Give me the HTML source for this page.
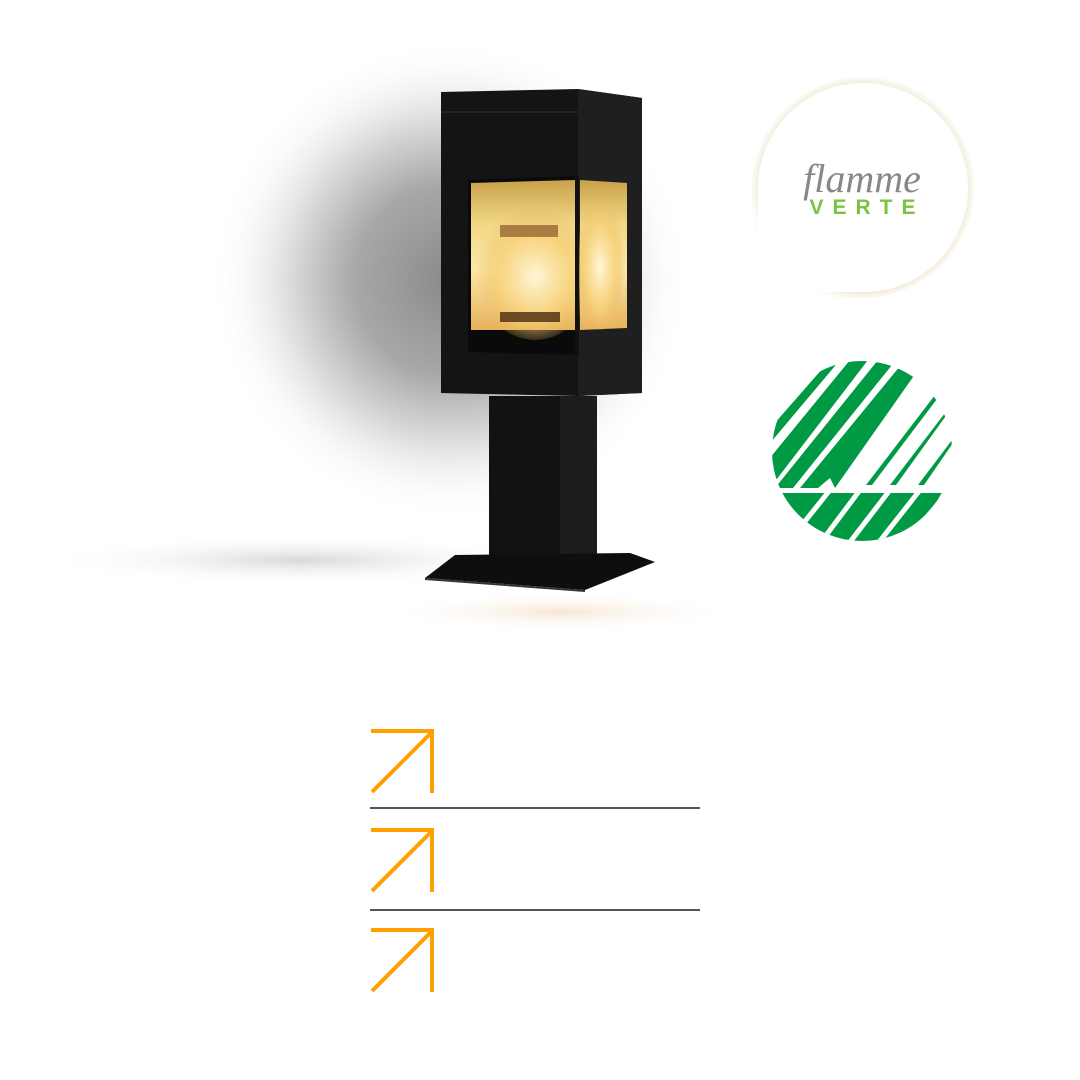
<!DOCTYPE html>
<html><head><meta charset="utf-8"><style>
html,body{margin:0;padding:0;background:#fff;}
svg{display:block}
</style></head><body>
<svg width="1080" height="1080" viewBox="0 0 1080 1080" xmlns="http://www.w3.org/2000/svg">
<defs>
<radialGradient id="glow" cx="450" cy="280" r="240" gradientUnits="userSpaceOnUse">
<stop offset="0" stop-color="#8a8a8a"/>
<stop offset="0.4" stop-color="#a8a8a8"/>
<stop offset="0.7" stop-color="#e2e2e2"/>
<stop offset="1" stop-color="#fff" stop-opacity="0"/>
</radialGradient>
<radialGradient id="shadow" cx="300" cy="560" r="260" gradientUnits="userSpaceOnUse" gradientTransform="matrix(1,0,0,0.1,0,504)">
<stop offset="0" stop-color="#d8d8d8"/>
<stop offset="1" stop-color="#fff" stop-opacity="0"/>
</radialGradient>
<radialGradient id="badgeglow" cx="863" cy="188" r="118" gradientUnits="userSpaceOnUse">
<stop offset="0.85" stop-color="#e6d7b0"/>
<stop offset="1" stop-color="#fff" stop-opacity="0"/>
</radialGradient>
<radialGradient id="floor" cx="0.5" cy="0.5" r="0.5">
<stop offset="0" stop-color="#f3dcc0"/>
<stop offset="1" stop-color="#fff" stop-opacity="0"/>
</radialGradient>
<linearGradient id="fire" x1="0" y1="0" x2="0" y2="1">
<stop offset="0" stop-color="#c9a24a"/>
<stop offset="0.3" stop-color="#f2d886"/>
<stop offset="0.6" stop-color="#fbe7a8"/>
<stop offset="1" stop-color="#e7b25a"/>
</linearGradient>
<radialGradient id="flame" cx="0.5" cy="0.55" r="0.5">
<stop offset="0" stop-color="#fff6d8"/>
<stop offset="0.6" stop-color="#f7d27a" stop-opacity="0.8"/>
<stop offset="1" stop-color="#e8b55a" stop-opacity="0"/>
</radialGradient>
<clipPath id="swan"><circle cx="862" cy="451" r="90"/></clipPath>
</defs>
<rect width="1080" height="1080" fill="#fff"/>
<ellipse cx="450" cy="280" rx="240" ry="240" fill="url(#glow)"/>
<ellipse cx="300" cy="560" rx="300" ry="30" fill="url(#shadow)"/>
<ellipse cx="560" cy="612" rx="180" ry="20" fill="url(#floor)" opacity="0.7"/>
<!-- stove body -->
<polygon points="441,92 578,89 642,98 642,393 578,396 441,393" fill="#141414"/>
<polygon points="578,89 642,98 642,393 578,396" fill="#1f1f1f"/>
<line x1="441" y1="112" x2="578" y2="112" stroke="#333" stroke-width="1"/>
<polygon points="468,180 578,176 578,355 468,352" fill="#0a0a0a"/>
<polygon points="471,183 575,180 575,330 471,330" fill="url(#fire)"/>
<polygon points="580,180 627,183 627,328 580,330" fill="url(#fire)"/>
<ellipse cx="535" cy="270" rx="60" ry="70" fill="url(#flame)"/>
<ellipse cx="600" cy="260" rx="25" ry="70" fill="url(#flame)"/>
<rect x="500" y="225" width="58" height="12" fill="#8a5a2a" opacity="0.7"/>
<rect x="500" y="312" width="60" height="10" fill="#4a2a10" opacity="0.8"/>
<line x1="577" y1="176" x2="577" y2="356" stroke="#111" stroke-width="4"/>
<!-- pedestal -->
<polygon points="489,396 597,396 597,555 489,555" fill="#121212"/>
<polygon points="560,396 597,396 597,555 560,555" fill="#1c1c1c"/>
<polygon points="455,555 630,553 655,562 585,590 425,578" fill="#0e0e0e"/>
<polygon points="425,578 585,590 585,592 425,580" fill="#333"/>
<!-- flamme verte badge -->
<path d="M752,298 L752,188 A111,111 0 0 1 863,77 A111,111 0 0 1 974,188 A111,111 0 0 1 863,298 Z" fill="url(#badgeglow)" opacity="0.8"/>
<path d="M758,292 L758,188 A105,105 0 0 1 863,83 A105,105 0 0 1 968,188 A104,104 0 0 1 863,292 Z" fill="#fff"/>
<text x="862" y="192" text-anchor="middle" font-family="Liberation Serif, serif" font-style="italic" font-size="40" fill="#888">flamme</text>
<text x="867" y="214" text-anchor="middle" font-family="Liberation Sans, sans-serif" font-weight="bold" font-size="21" letter-spacing="9" fill="#7cc242">VERTE</text>
<!-- nordic swan -->
<g clip-path="url(#swan)">
<rect x="770" y="360" width="185" height="185" fill="#fff"/>
<g fill="#009a44">
<polygon points="760,440 830,360 840,360 760,455"/>
<polygon points="760,470 850,360 868,360 770,488"/>
<polygon points="775,488 878,360 896,360 793,488"/>
<polygon points="800,488 905,360 925,360 835,488 830,478 818,488"/>
<polygon points="866,485 935,395 940,395 872,485"/>
<polygon points="890,485 945,413 948,413 896,485"/>
<polygon points="918,485 952,440 955,440 924,485"/>
<polygon points="770,493 960,493 960,560 770,560"/>
</g>
<g stroke="#fff" stroke-width="5">
<line x1="790" y1="540" x2="830" y2="490"/>
<line x1="815" y1="550" x2="860" y2="490"/>
<line x1="840" y1="555" x2="890" y2="490"/>
<line x1="865" y1="560" x2="920" y2="490"/>
<line x1="890" y1="560" x2="950" y2="490"/>
</g>
<circle cx="811" cy="484" r="3" fill="#009a44"/>
</g>
<!-- arrows -->
<g fill="none" stroke="#ff9f00" stroke-width="4">
<path d="M371,731 H432 V793 M432,732 L372,792"/>
<path d="M371,830 H432 V892 M432,831 L372,891"/>
<path d="M371,930 H432 V992 M432,931 L372,991"/>
</g>
<line x1="370" y1="808" x2="700" y2="808" stroke="#555" stroke-width="2"/>
<line x1="370" y1="910" x2="700" y2="910" stroke="#555" stroke-width="2"/>
</svg>
</body></html>
